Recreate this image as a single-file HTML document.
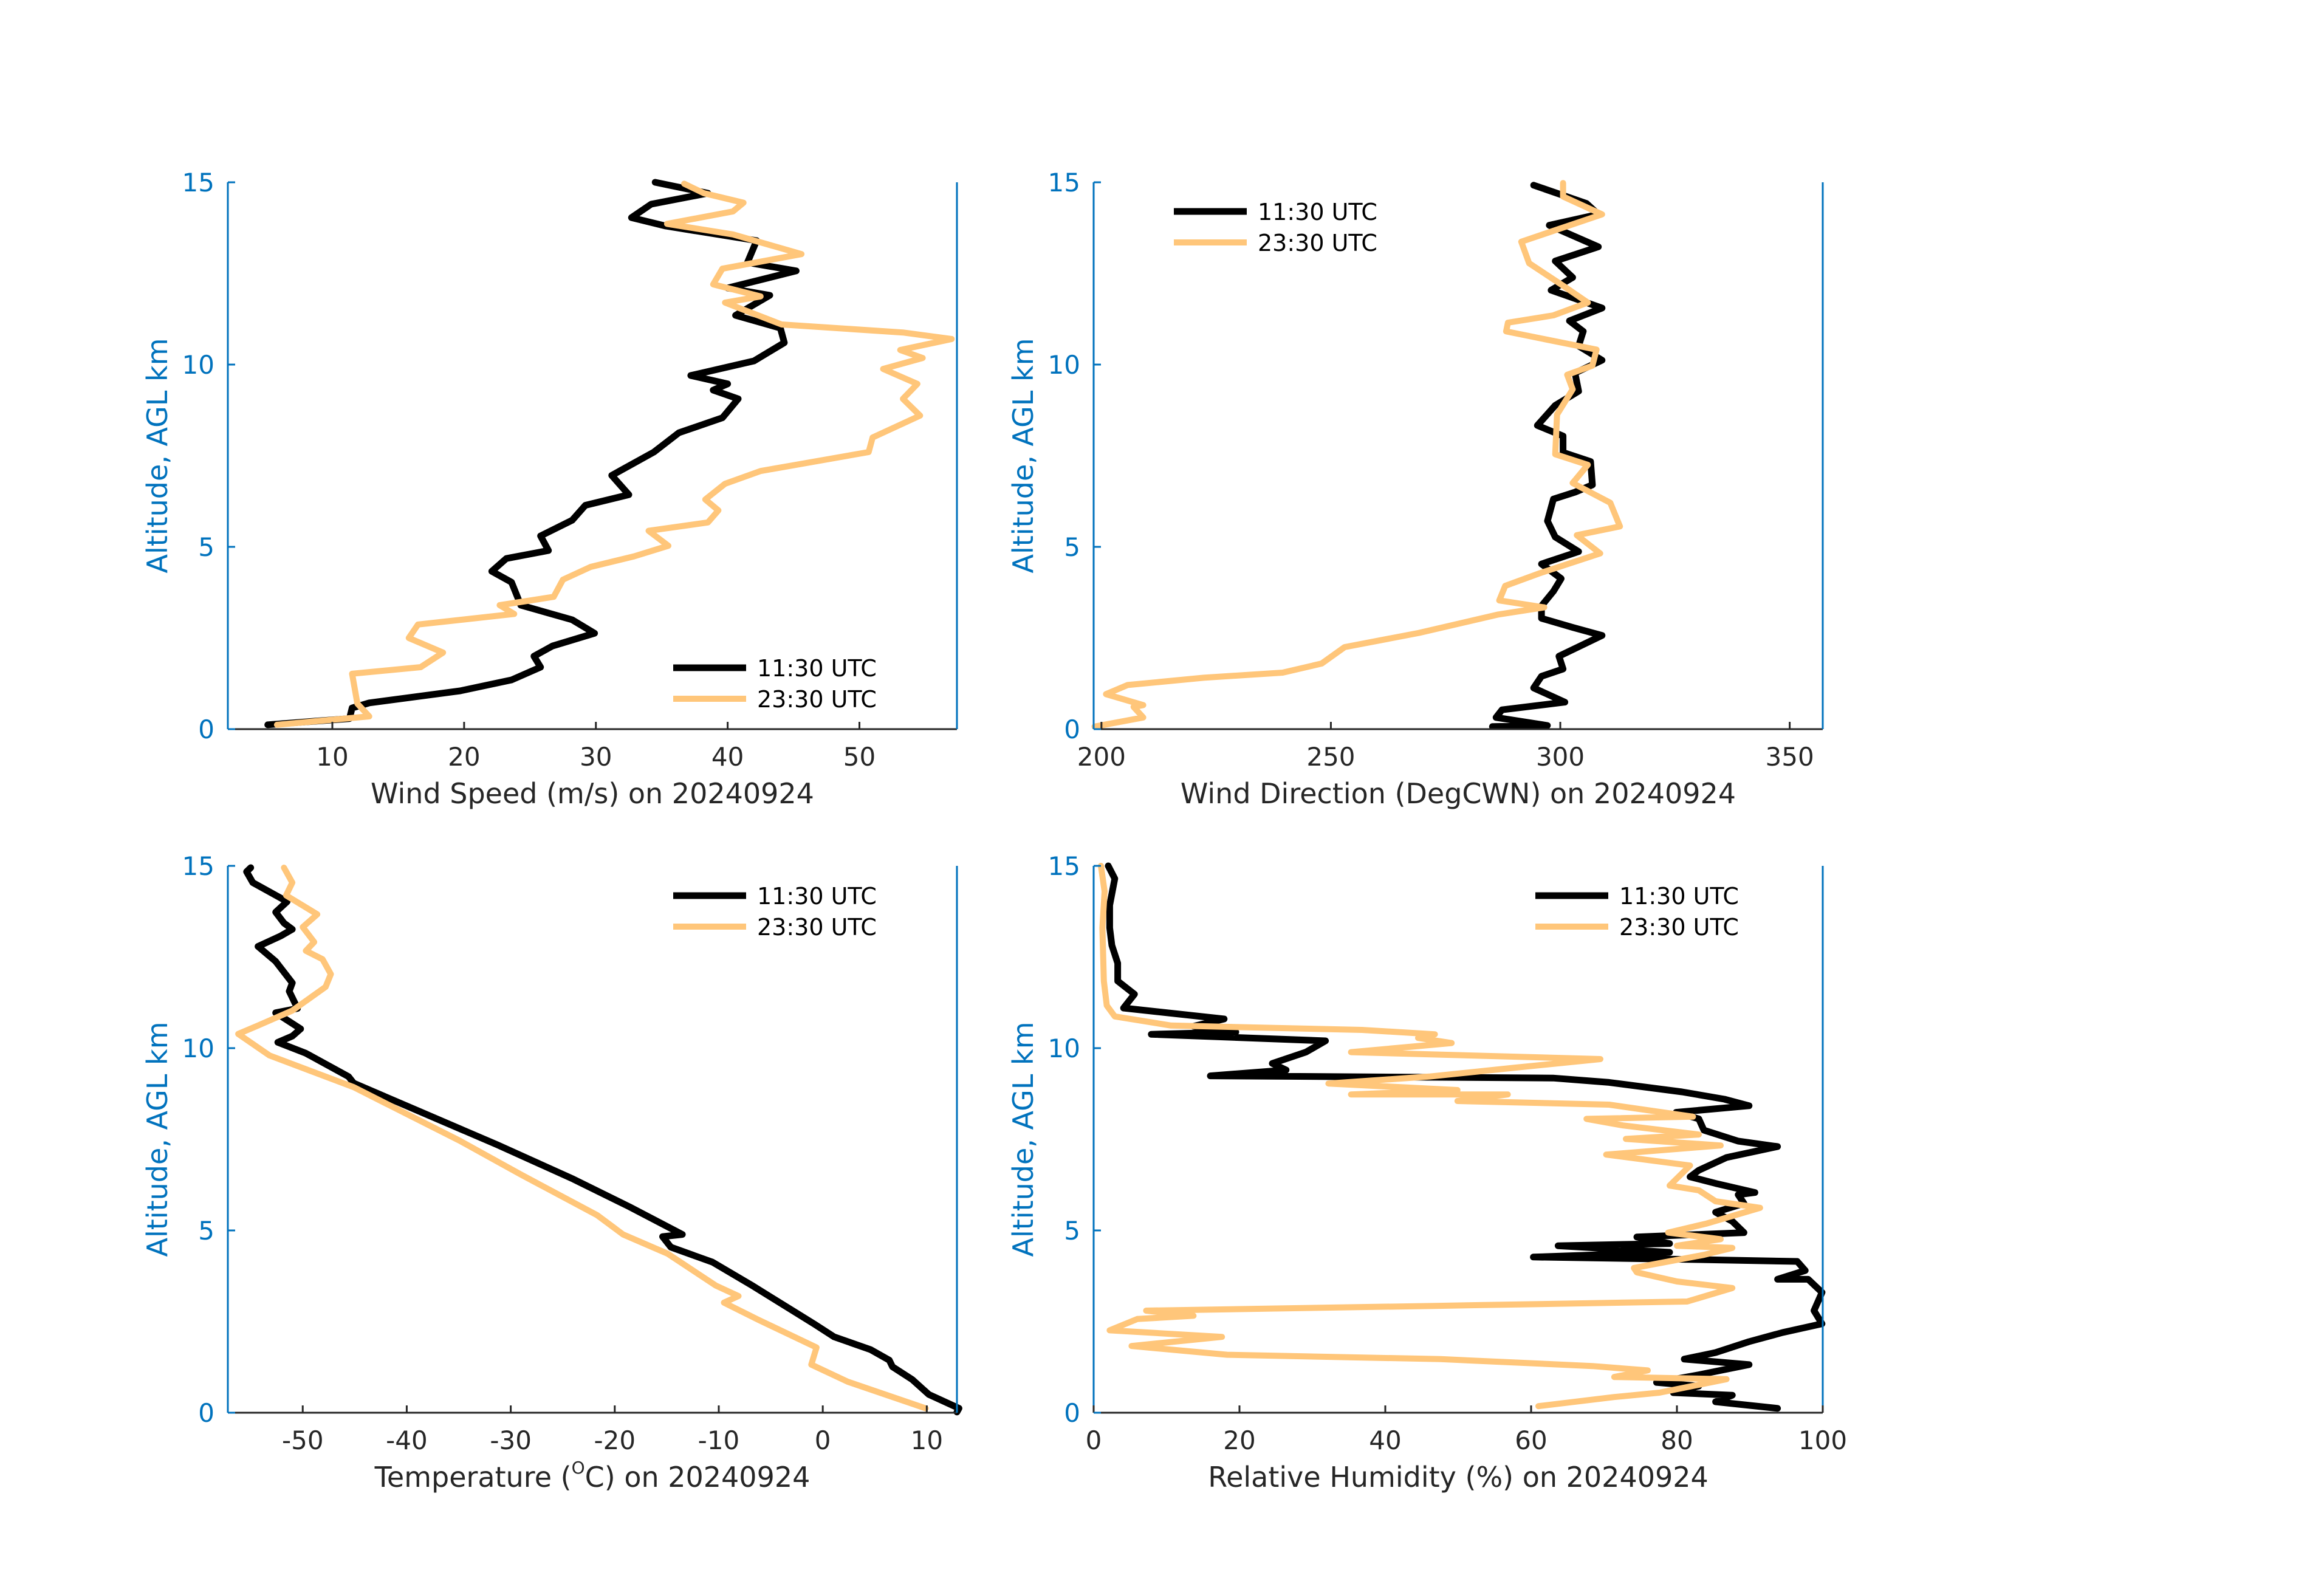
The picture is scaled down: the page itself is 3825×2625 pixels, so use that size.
<!DOCTYPE html>
<html><head><meta charset="utf-8"><style>
html,body{margin:0;padding:0;background:#fff}
svg{display:block;font-family:"DejaVu Sans","Liberation Sans",sans-serif}
</style></head><body>
<svg id="fig" width="3825" height="2625" viewBox="0 0 3825 2625"></svg>
<script>
const altWs1=[0.12,0.29,0.58,0.72,1.05,1.35,1.7,2.0,2.28,2.63,3.0,3.4,4.03,4.33,4.68,4.9,5.3,5.73,6.14,6.43,6.96,7.6,8.13,8.54,9.06,9.3,9.47,9.7,10.1,10.6,11.0,11.35,11.9,12.1,12.57,12.8,13.4,13.8,14.03,14.4,14.7,15.0];
const ws1=[5.1,11.3,11.5,12.8,19.7,23.6,25.8,25.3,26.7,29.9,28.2,24.3,23.6,22.1,23.2,26.4,25.8,28.2,29.2,32.5,31.2,34.4,36.3,39.6,40.8,38.9,40,37.2,42,44.3,44,40.6,43.2,40,45.2,41.5,42.2,35.3,32.7,34.2,38.5,34.5];
const altWs2=[0.12,0.35,0.7,1.52,1.7,2.1,2.5,2.87,3.16,3.4,3.63,4.1,4.45,4.74,5.03,5.44,5.67,6.0,6.3,6.73,7.08,7.6,8.0,8.6,9.06,9.47,9.88,10.18,10.4,10.7,10.88,11.1,11.7,11.87,12.2,12.63,13.03,13.57,13.86,14.2,14.44,14.7,14.96];
const ws2=[5.8,12.8,11.9,11.5,16.7,18.4,15.8,16.5,23.8,22.7,26.8,27.5,29.6,32.9,35.5,34,38.5,39.3,38.3,39.8,42.5,50.7,51,54.6,53.3,54.4,51.8,54.8,53.1,57,53.3,44.1,39.8,42.5,38.9,39.6,45.6,40.4,35.4,40.4,41.2,38.2,36.7];
const altWd1=[0.07,0.1,0.32,0.53,0.74,1.13,1.45,1.65,2.0,2.57,2.79,3.04,3.38,3.78,4.13,4.53,4.87,5.27,5.71,6.31,6.5,6.7,7.34,7.59,8.04,8.33,8.88,9.27,9.77,10.12,10.51,10.91,11.2,11.55,12.04,12.39,12.84,13.23,13.82,14.12,14.42,14.92];
const wd1=[285.2,297.2,286,287.3,301,294.2,295.9,300.6,299.7,309.1,302.7,295.9,295.9,298.5,300.2,295.9,304,298.9,297.2,298.5,303.2,307,306.6,300.6,300.6,295,298.9,304,303.2,309.1,304,305,302,309.1,298,302.7,298.9,308.3,297.6,308.3,305.7,294.2];
const altWd2=[0.07,0.32,0.61,0.66,0.96,1.21,1.41,1.55,1.8,2.25,2.64,3.14,3.34,3.53,3.93,4.28,4.82,5.32,5.56,6.21,6.75,7.25,7.54,8.63,9.32,9.72,9.97,10.41,10.91,11.15,11.35,11.7,12.14,12.78,13.37,14.12,14.61,14.98];
const wd2=[198.5,209.1,207,209.1,201,205.7,222.3,239.5,248,253,269.2,286.3,296.5,286.7,288,295.6,308.7,303.6,313,310.9,302.7,306,298.9,299.3,302.7,301.5,307,307.9,288.2,288.6,298.5,306,300.9,293.2,291.5,309.1,300.6,300.6];
const altT1=[0.02,0.12,0.5,0.91,1.26,1.44,1.73,2.08,2.43,3.49,4.13,4.54,4.83,4.89,5.65,6.41,7.35,8.28,9.04,9.22,9.86,10.16,10.33,10.53,10.97,11.09,11.56,11.79,12.38,12.79,13.08,13.26,13.43,13.73,14.02,14.54,14.84,14.95];
const t1=[12.9,13.1,10.2,8.6,6.7,6.4,4.6,1.1,-0.8,-6.8,-10.6,-14.6,-15.4,-13.5,-18.6,-24,-31.3,-38.9,-45.1,-45.6,-49.7,-52.4,-51,-50.2,-52.6,-50.5,-51.3,-51,-52.6,-54.3,-52.1,-51,-51.8,-52.6,-51.5,-54.8,-55.4,-55];
const altT2=[0.12,0.85,1.32,1.79,2.55,3.02,3.2,3.49,4.36,4.89,5.42,6.53,7.46,8.28,8.93,9.8,10.39,10.62,11.03,11.68,12.03,12.44,12.67,12.91,13.32,13.67,14.19,14.54,14.95];
const t2=[9.9,2.4,-1.1,-0.6,-6.2,-9.5,-8.1,-10.3,-14.9,-19.2,-21.7,-29,-34.9,-40.6,-45.1,-53.2,-56.2,-54.3,-51,-47.8,-47.3,-48.1,-49.7,-48.9,-50,-48.6,-51.6,-51,-51.8];
const altRh1=[0.12,0.3,0.48,0.55,0.73,0.83,1.04,1.32,1.47,1.65,1.95,2.2,2.44,2.8,3.3,3.66,3.66,3.9,4.15,4.2,4.27,4.4,4.58,4.64,4.82,4.94,5.25,5.5,5.74,5.98,6.04,6.29,6.47,6.65,7.0,7.3,7.45,7.75,8.06,8.24,8.42,8.6,8.8,9.06,9.18,9.24,9.4,9.58,9.89,10.2,10.38,10.44,10.6,10.8,11.1,11.48,11.84,12.33,12.82,13.3,13.92,14.65,15];
const rh1=[93.8,85.3,87.6,79.5,83,77.2,83,89.9,81,85.3,89.9,94.5,99.9,98.8,99.9,98,93.8,97.6,96.5,83,60.3,79,63.7,79,74.5,89.2,87.6,85.3,89.2,88.4,90.7,85.3,81.8,83,86.8,93.8,88.4,83.7,83,79.9,89.9,86.5,80.7,70.7,63,16,26.4,24.5,29.1,31.8,7.9,19.5,13.7,17.9,4.1,5.6,3.3,3.3,2.5,2.2,2.2,2.9,2];
const altRh2=[0.18,0.43,0.55,0.92,0.98,1.16,1.28,1.47,1.59,1.83,2.08,2.26,2.57,2.66,2.8,2.93,3.05,3.42,3.6,3.85,3.97,4.33,4.52,4.58,4.76,4.94,5.19,5.62,5.8,6.1,6.23,6.78,7.08,7.33,7.51,7.63,7.88,8.06,8.12,8.45,8.55,8.73,8.73,8.85,9.03,9.22,9.46,9.7,9.89,10.14,10.28,10.38,10.5,10.62,10.87,11.17,11.84,13.3,14.3,15];
const rh2=[61,71.4,77.6,86.8,71.4,76,68.4,47.6,18.3,5.2,17.6,2.2,6,13.7,7.2,46.8,81.4,87.6,80,74.5,74.1,83.7,87.6,80,86,78.8,84.1,91.4,85.3,83,79,81.8,70.3,86,73,83,72.6,67.6,82.2,70.7,49.9,56.8,35.3,49.9,32.2,46,57.6,69.5,35.3,49.1,44.5,46.8,36.8,10.6,2.9,1.8,1.4,1.2,1.5,1];
const yTicks=[0,5,10,15];
const wsTicks=[10,20,30,40,50];
const wdTicks=[200,250,300,350];
const tTicks=[-50,-40,-30,-20,-10,0,10];
const rhTicks=[0,20,40,60,80,100];

const NS='http://www.w3.org/2000/svg';
const svg=document.getElementById('fig');
function mk(tag,attrs,parent){const e=document.createElementNS(NS,tag);for(const k in attrs)e.setAttribute(k,attrs[k]);(parent||svg).appendChild(e);return e;}
const BLUE='#0072BD',TXT='#262626';

function panel(key,L,T,xmin,xmax,xticks,xlabelHTML,series,legend){
  const W=1200,H=900,R=L+W,B=T+H;
  const g=mk('g',{});
  
  
  const xs=v=>L+(v-xmin)/(xmax-xmin)*W;
  const ys=v=>B-v/15*H;
  series.forEach((s,i)=>{
    const d=s.alt.map((a,j)=>(j?'L':'M')+xs(s.val[j]).toFixed(1)+','+ys(a).toFixed(1)).join('');
    const p=mk('path',{d:d,fill:'none',stroke:s.color,'stroke-width':s.w,'stroke-linejoin':'round','stroke-linecap':'round'},g);
    
    
  });
  const xa=mk('line',{x1:L,y1:B,x2:R,y2:B,stroke:'#262626','stroke-width':3},g);
  
  
  const ya=mk('line',{x1:L,y1:T,x2:L,y2:B,stroke:BLUE,'stroke-width':3},g);
  
  
  const yr=mk('line',{x1:R,y1:T,x2:R,y2:B,stroke:BLUE,'stroke-width':3},g);
  
  
  xticks.forEach(v=>{
    const x=xs(v);
    mk('line',{x1:x,y1:B,x2:x,y2:B-12,stroke:'#262626','stroke-width':3},g);
    const t=mk('text',{x:x,y:B+60,'font-size':42,fill:TXT,'text-anchor':'middle'},g);
    t.textContent=v;
    
    
  });
  yTicks.forEach(v=>{
    const y=ys(v);
    mk('line',{x1:L,y1:y,x2:L+12,y2:y,stroke:BLUE,'stroke-width':3},g);
    const t=mk('text',{x:L-22,y:y+15,'font-size':42,fill:BLUE,'text-anchor':'end'},g);
    t.textContent=v;
    
    
  });
  const xl=mk('text',{x:L+W/2,y:B+122,'font-size':46,fill:TXT,'text-anchor':'middle'},g);
  xl.innerHTML=xlabelHTML;
  
  
  const yl=mk('text',{x:0,y:0,'font-size':46,fill:BLUE,'text-anchor':'middle',transform:'translate('+(L-100)+','+(T+H/2)+') rotate(-90)'},g);
  yl.textContent='Altitude, AGL km';
  
  
  series.forEach((s,i)=>{
    const y=legend.y+i*51;
    const ln=mk('line',{x1:legend.x,y1:y,x2:legend.x+120,y2:y,stroke:s.color,'stroke-width':s.w},g);
    
    
    const t=mk('text',{x:legend.x+138,y:y+14,'font-size':38,fill:'#000'},g);
    t.textContent=s.label;
    
    
  });
}
const C1='#000000',C2='#FFC67A';
function ser(a1,v1,a2,v2){return [{name:'1130',label:'11:30 UTC',alt:a1,val:v1,color:C1,w:11},{name:'2330',label:'23:30 UTC',alt:a2,val:v2,color:C2,w:10}];}
panel('wind-speed',375,300,2.07,57.4,wsTicks,'Wind Speed (m/s) on 20240924',ser(altWs1,ws1,altWs2,ws2),{x:1108,y:1099});
panel('wind-direction',1800,300,198.3,357.2,wdTicks,'Wind Direction (DegCWN) on 20240924',ser(altWd1,wd1,altWd2,wd2),{x:1932,y:348});
panel('temperature',375,1425,-57.2,12.9,tTicks,'Temperature (<tspan font-size="28" dy="-22">O</tspan><tspan dy="22">C) on 20240924</tspan>',ser(altT1,t1,altT2,t2),{x:1108,y:1474});
panel('relative-humidity',1800,1425,0,100,rhTicks,'Relative Humidity (%) on 20240924',ser(altRh1,rh1,altRh2,rh2),{x:2527,y:1474});
</script>
</body></html>
